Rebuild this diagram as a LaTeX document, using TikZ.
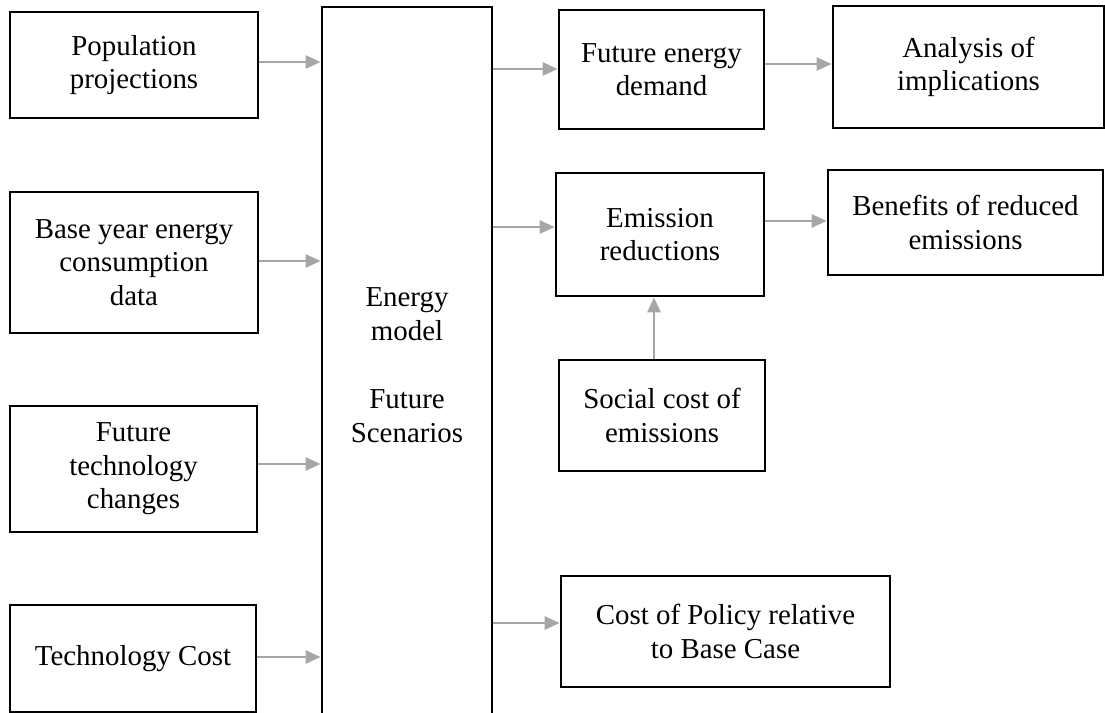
\documentclass[tikz,border=0pt]{standalone}
\usepackage{fontspec}
\setmainfont{Liberation Serif}
\usetikzlibrary{arrows.meta}
\definecolor{arrgray}{HTML}{A6A6A6}
\tikzset{
  box/.style={draw=black, line width=2.8bp, fill=white, align=center, inner sep=0pt,
    font=\fontsize{29}{33.5}\selectfont},
  arr/.style={draw=arrgray, line width=2.8bp, -{Triangle[length=15bp,width=13bp]}}
}
\begin{document}
\begin{tikzpicture}[x=1bp,y=-1bp]
\useasboundingbox (0,0) rectangle (1105,713);
% inputs
\node[box, minimum width=248bp, minimum height=106bp] (pop) at (134,65) {Population\\projections};
\node[box, minimum width=248bp, minimum height=141bp] (base) at (134,262.5) {Base year energy\\consumption\\data};
\node[box, minimum width=247bp, minimum height=126bp] (futtech) at (133.5,469) {Future\\technology\\changes};
\node[box, minimum width=246bp, minimum height=107bp] (techcost) at (133,658.5) {Technology Cost};
% model
\node[box, minimum width=170bp, minimum height=716bp, font=\fontsize{29}{34}\selectfont] (energy) at (407,365) {Energy\\model\\[34bp]Future\\Scenarios};
% outputs
\node[box, minimum width=205bp, minimum height=119bp] (fed) at (661.5,69.5) {Future energy\\demand};
\node[box, minimum width=271bp, minimum height=122bp] (anal) at (968.5,67) {Analysis of\\implications};
\node[box, minimum width=208bp, minimum height=123bp] (emis) at (660,234.5) {Emission\\reductions};
\node[box, minimum width=275bp, minimum height=105bp] (ben) at (965.5,222.5) {Benefits of reduced\\emissions};
\node[box, minimum width=206bp, minimum height=111bp] (soc) at (662,415.5) {Social cost of\\emissions};
\node[box, minimum width=329bp, minimum height=111bp] (cost) at (725.5,631.5) {Cost of Policy relative\\to Base Case};
% rows for connectors
\coordinate (r1) at (0,62);
\coordinate (r2) at (0,261);
\coordinate (r3) at (0,464);
\coordinate (r4) at (0,657);
\coordinate (o1) at (0,69);
\coordinate (o2) at (0,227);
\coordinate (o3) at (0,623);
\coordinate (a1) at (0,64);
\coordinate (b1) at (0,221);
\coordinate (c1) at (654,0);
% connectors
\draw[arr] (pop.east |- r1) -- (energy.west |- r1);
\draw[arr] (base.east |- r2) -- (energy.west |- r2);
\draw[arr] (futtech.east |- r3) -- (energy.west |- r3);
\draw[arr] (techcost.east |- r4) -- (energy.west |- r4);
\draw[arr] (energy.east |- o1) -- (fed.west |- o1);
\draw[arr] (energy.east |- o2) -- (emis.west |- o2);
\draw[arr] (energy.east |- o3) -- (cost.west |- o3);
\draw[arr] (fed.east |- a1) -- (anal.west |- a1);
\draw[arr] (emis.east |- b1) -- (ben.west |- b1);
\draw[arr] (soc.north -| c1) -- (emis.south -| c1);
\end{tikzpicture}
\end{document}
